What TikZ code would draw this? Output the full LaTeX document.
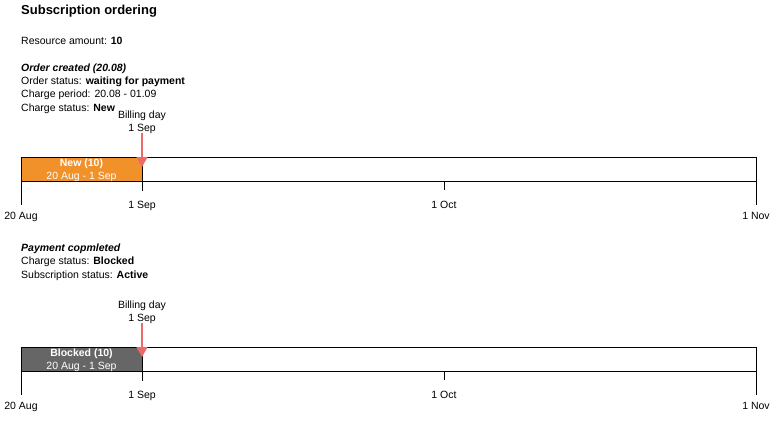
\documentclass[tikz,border=0pt]{standalone}
\usepackage{fontspec}
\setmainfont{Liberation Sans}
\usetikzlibrary{arrows.meta}
\definecolor{neworange}{RGB}{240,145,42}
\definecolor{blockgray}{RGB}{102,102,102}
\definecolor{billred}{RGB}{236,106,104}
\begin{document}
\begin{tikzpicture}[x=1pt,y=-1pt,
	every node/.style={inner sep=0,font=\fontsize{10.5}{13}\selectfont},
	info/.style={anchor=base west},
	datelabel/.style={anchor=base},
	barbox/.style={draw,line width=0.9pt,anchor=north west,minimum height=24pt},
	tick/.style={draw,line width=0.9pt},
	billing/.style={draw=billred,line width=1.2pt,-{Triangle[width=11pt,length=10pt]}}]
\useasboundingbox (0,0) rectangle (778,423);
\node[info,font=\fontsize{13}{15}\selectfont\bfseries] (title) at (21,14) {Subscription ordering};
\node[info] (amount) at (21,44) {Resource amount: \textbf{10}};
% order created
\node[info,font=\fontsize{10.5}{13}\selectfont\bfseries\itshape] (step1) at (21,71) {Order created (20.08)};
\node[info] (order1) at (21,84) {Order status: \textbf{waiting for payment}};
\node[info] (period1) at (21,97.5) {Charge period: 20.08 - 01.09};
\node[info] (charge1) at (21,111) {Charge status: \textbf{New}};
% payment completed
\node[info,font=\fontsize{10.5}{13}\selectfont\bfseries\itshape] (step2) at (21,251) {Payment copmleted};
\node[info] (charge2) at (21,264.5) {Charge status: \textbf{Blocked}};
\node[info] (subscr2) at (21,278) {Subscription status: \textbf{Active}};
% timelines
\foreach \p/\dy/\col/\state in {1/0/neworange/New,2/190/blockgray/Blocked}{
\begin{scope}[yshift=-\dy pt]
\node[barbox,minimum width=735pt] (bar\p) at (21,157) {};
\node[barbox,fill=\col,minimum width=121pt] (state\p) at (21,157) {};
\node[datelabel,text=white,font=\fontsize{10.5}{13}\selectfont\bfseries] (name\p) at (81.5,166) {\state{} (10)};
\node[datelabel,text=white] (range\p) at (81.5,179) {20 Aug - 1 Sep};
\node[datelabel] (billday\p) at (142,118) {Billing day};
\node[datelabel] (billdate\p) at (142,131) {1 Sep};
\coordinate (tip\p) at (142,167);
\draw[billing] (billdate\p.south) -- (tip\p);
\draw[tick] (bar\p.south west) -- ++(0,23);
\node[datelabel] (aug\p) at (21,219) {20 Aug};
\draw[tick] (state\p.south east) -- ++(0,9);
\node[datelabel] (sep\p) at (142,208) {1 Sep};
\draw[tick] (444,181) -- ++(0,9);
\node[datelabel] (oct\p) at (444,208) {1 Oct};
\draw[tick] (bar\p.south east) -- ++(0,23);
\node[datelabel] (nov\p) at (756,219) {1 Nov};
\end{scope}
}
\end{tikzpicture}
\end{document}
